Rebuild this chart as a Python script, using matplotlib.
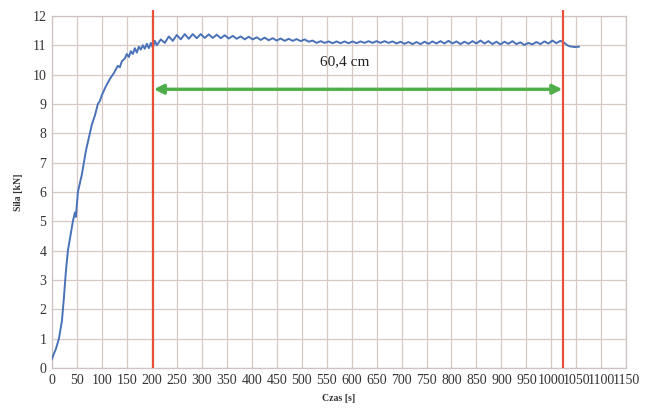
import matplotlib.pyplot as plt

# rise phase (czas [s], siła [kN])
czas_rise = [0, 3, 8, 14, 20, 24, 28, 32, 37, 42, 46, 48, 52, 56, 60, 64, 68, 72, 76, 80,
             86, 92, 96, 100, 108, 116, 124, 132, 136, 140, 146, 150, 154, 158, 162, 166,
             170, 174, 178, 182, 186, 190, 194, 198, 202, 206]
sila_rise = [0.3, 0.45, 0.65, 1.0, 1.6, 2.4, 3.3, 4.0, 4.5, 5.0, 5.3, 5.15, 6.0, 6.3, 6.6,
             7.0, 7.4, 7.7, 8.0, 8.3, 8.6, 9.0, 9.1, 9.3, 9.6, 9.85, 10.05, 10.3, 10.25,
             10.45, 10.55, 10.7, 10.6, 10.8, 10.7, 10.9, 10.75, 10.95, 10.85, 11.0, 10.88,
             11.05, 10.9, 11.08, 10.92, 11.15]

# steady phase, sampled every 8 s (peak / trough)
czas_steady = [210, 218, 226, 234, 242, 250, 258, 266, 274, 282, 290, 298, 306, 314, 322,
               330, 338, 346, 354, 362, 370, 378, 386, 394, 402, 410, 418, 426, 434, 442,
               450, 458, 466, 474, 482, 490, 498, 506, 514, 522, 530, 538, 546, 554, 562,
               570, 578, 586, 594, 602, 610, 618, 626, 634, 642, 650, 658, 666, 674, 682,
               690, 698, 706, 714, 722, 730, 738, 746, 754, 762, 770, 778, 786, 794, 802,
               810, 818, 826, 834, 842, 850, 858, 866, 874, 882, 890, 898, 906, 914, 922,
               930, 938, 946, 954, 962, 970, 978, 986, 994, 1002, 1010, 1018, 1026, 1032,
               1038, 1046, 1055]
sila_steady = [11.0, 11.2, 11.08, 11.3, 11.15, 11.35, 11.2, 11.38, 11.22, 11.38, 11.24,
               11.38, 11.25, 11.37, 11.25, 11.36, 11.24, 11.34, 11.23, 11.32, 11.22, 11.3,
               11.2, 11.29, 11.2, 11.27, 11.18, 11.26, 11.17, 11.24, 11.16, 11.23, 11.15,
               11.22, 11.15, 11.21, 11.14, 11.2, 11.12, 11.16, 11.08, 11.14, 11.08, 11.13,
               11.07, 11.13, 11.07, 11.13, 11.07, 11.13, 11.07, 11.13, 11.08, 11.14, 11.08,
               11.14, 11.08, 11.14, 11.08, 11.13, 11.06, 11.12, 11.05, 11.11, 11.04, 11.11,
               11.04, 11.12, 11.05, 11.13, 11.06, 11.14, 11.06, 11.15, 11.06, 11.13, 11.04,
               11.12, 11.05, 11.14, 11.06, 11.16, 11.06, 11.14, 11.04, 11.12, 11.03, 11.12,
               11.05, 11.14, 11.04, 11.1, 11.01, 11.08, 11.03, 11.11, 11.04, 11.13, 11.06,
               11.16, 11.07, 11.15, 11.08, 11.0, 10.96, 10.94, 10.95]

czas = czas_rise + czas_steady
sila = sila_rise + sila_steady

granice = [202, 1024]   # red markers
strzalka_y = 9.5
opis = '60,4 cm'

plt.rcParams['font.family'] = ['Liberation Serif', 'DejaVu Serif']

fig = plt.figure(figsize=(6.49, 4.08), dpi=100)
ax = fig.add_axes([0.080, 0.098, 0.885, 0.863])

ax.plot(czas, sila, color='#4a72b8', linewidth=1.4, zorder=3)

for g in granice:
    ax.vlines(g, 0, 12.2, color='#e8503a', linewidth=1.6, zorder=4, clip_on=False)

ax.annotate('', xy=(granice[0] + 2, strzalka_y), xytext=(granice[1] - 2, strzalka_y),
            arrowprops=dict(arrowstyle='<|-|>', color='#4fae4a', lw=2.4,
                            mutation_scale=14, shrinkA=0, shrinkB=0), zorder=5)
ax.text(587, 10.43, opis, ha='center', va='center', fontsize=11, color='#222222')

ax.set_xlim(0, 1150)
ax.set_ylim(0, 12)
ax.set_xticks(range(0, 1151, 50))
ax.set_yticks(range(0, 13))
ax.tick_params(length=0, labelsize=10, colors='#333333', pad=4)
ax.grid(True, color='#d8c8c4', linewidth=0.9)
for s in ax.spines.values():
    s.set_color('#cfc2c0')
    s.set_linewidth(0.9)

ax.set_xlabel('Czas [s]', fontsize=7, fontweight='bold', labelpad=5, color='#333333')
ax.set_ylabel('Siła [kN]', fontsize=7, fontweight='bold', labelpad=7, color='#333333')

fig.savefig('out.png', dpi=100)
